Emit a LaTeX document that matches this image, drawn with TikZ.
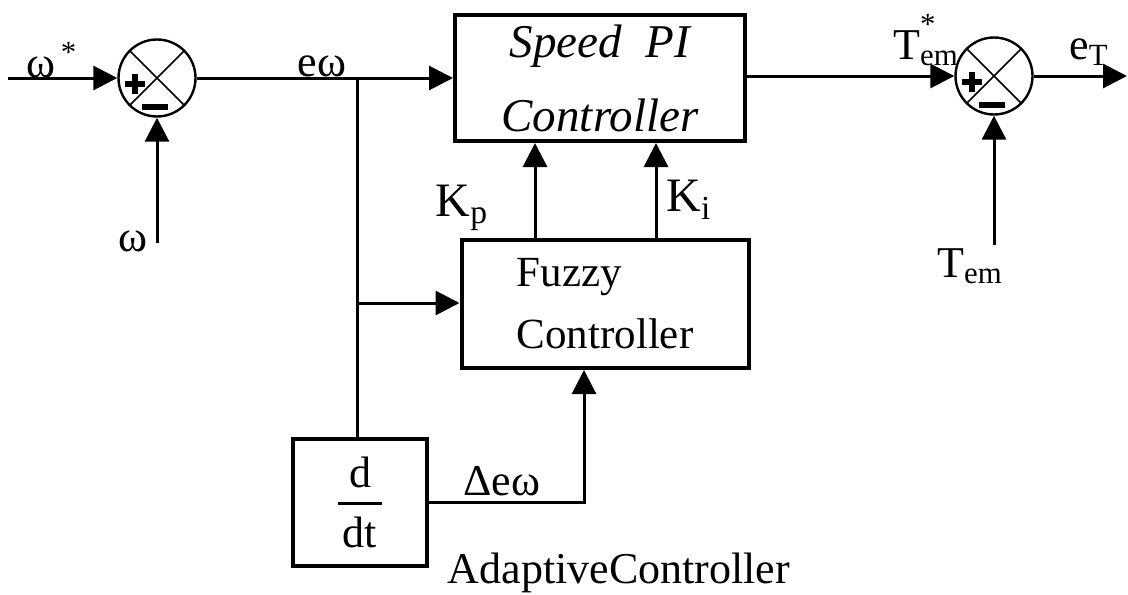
\documentclass[tikz,border=0pt]{standalone}
\usepackage{fontspec}
\setmainfont{Liberation Serif}
\usetikzlibrary{arrows.meta,positioning}
\tikzset{
  block/.style={
    draw,
    line width=2pt,
    inner sep=0pt
  },
  sumjunc/.style={
    circle,
    draw,
    line width=1.2pt,
    minimum size=38.5pt,
    inner sep=0pt,
    path picture={
      \draw[line width=0.8pt]
        (path picture bounding box.north west) -- (path picture bounding box.south east)
        (path picture bounding box.north east) -- (path picture bounding box.south west);
      \draw[line width=3pt]
        ([shift={(-16pt,-3pt)}]path picture bounding box.center) -- ++(10pt,0pt)
        ([shift={(-11pt,2pt)}]path picture bounding box.center) -- ++(0pt,-10pt)
        ([shift={(-7.5pt,-14.5pt)}]path picture bounding box.center) -- ++(13pt,0pt);
    }
  },
  lbl/.style={inner sep=0pt, font=\fontsize{22}{24}\selectfont},
  wire/.style={line width=1.5pt},
  sig/.style={-{Triangle[length=12pt,width=12pt]}, line width=1.5pt}
}

\begin{document}
\begin{tikzpicture}[x=0.5pt, y=-0.5pt]
  \useasboundingbox (0,0) rectangle (1128,594);

  % summing junctions
  \node[sumjunc] (sumw) at (157,78) {};
  \node[sumjunc] (sumt) at (994,76) {};

  % controller blocks
  \node[block, minimum width=145pt, minimum height=63pt, align=center,
        font=\fontsize{23.5}{37}\selectfont\itshape] (pi) at (600,78) {Speed~~PI\\Controller};
  \node[block, minimum width=143.5pt, minimum height=64pt, align=left,
        font=\fontsize{21.5}{31}\selectfont] (fz) at (605,304) {Fuzzy\\Controller};
  \node[block, minimum width=67pt, minimum height=63.5pt, align=center,
        font=\fontsize{22}{20}\selectfont] (ddt) at (360,502) {d\\[-11pt]\rule{22pt}{1.3pt}\\[1pt]dt};

  % free ends
  \coordinate (win) at (8,78);
  \coordinate (wfb) at (157,243);
  \coordinate (brch) at (357,78);
  \coordinate (brfz) at (357,303);
  \coordinate (eT) at (1127,76);
  \coordinate (tem) at (994,245);

  % connectors
  \draw[sig] (win) -- (sumw);
  \draw[sig] (wfb) -- (sumw.south);
  \draw[sig] (sumw.east) -- (pi.west);
  \draw[wire] (brch) -- (brch |- ddt.north);
  \draw[sig] (brfz) -- (brfz -| fz.west);
  \draw[sig] ([xshift=-35pt]fz.north) -- ([xshift=-35pt]fz.north |- pi.south);
  \draw[sig] ([xshift=25.5pt]fz.north) -- ([xshift=25.5pt]fz.north |- pi.south);
  \draw[sig] (ddt.east) -| ([xshift=-10.5pt]fz.south);
  \draw[sig] (pi.east |- sumt) -- (sumt.west);
  \draw[sig] (sumt.east) -- (eT);
  \draw[sig] (tem) -- (sumt.south);

  % labels
  \node[lbl] (lwref) at (52,60) {ω\textsuperscript{\,*}};
  \node[lbl] (lw) at (133,241) {ω};
  \node[lbl] (lew) at (322,66) {eω};
  \node[lbl, font=\fontsize{24}{26}\selectfont] (lkp) at (462,208) {K\textsubscript{p}};
  \node[lbl, font=\fontsize{24}{26}\selectfont] (lki) at (689,200) {K\textsubscript{i}};
  \node[lbl] (ltref) at (926,40) {T\rlap{\raisebox{5pt}{\textsuperscript{*}}}\textsubscript{em}};
  \node[lbl] (let) at (1089,52) {e\textsubscript{T}};
  \node[lbl] (ltem) at (970,266) {T\textsubscript{em}};
  \node[lbl] (ldew) at (502,481) {Δeω};
  \node[lbl] (ladapt) at (619,573) {AdaptiveController};
\end{tikzpicture}
\end{document}
